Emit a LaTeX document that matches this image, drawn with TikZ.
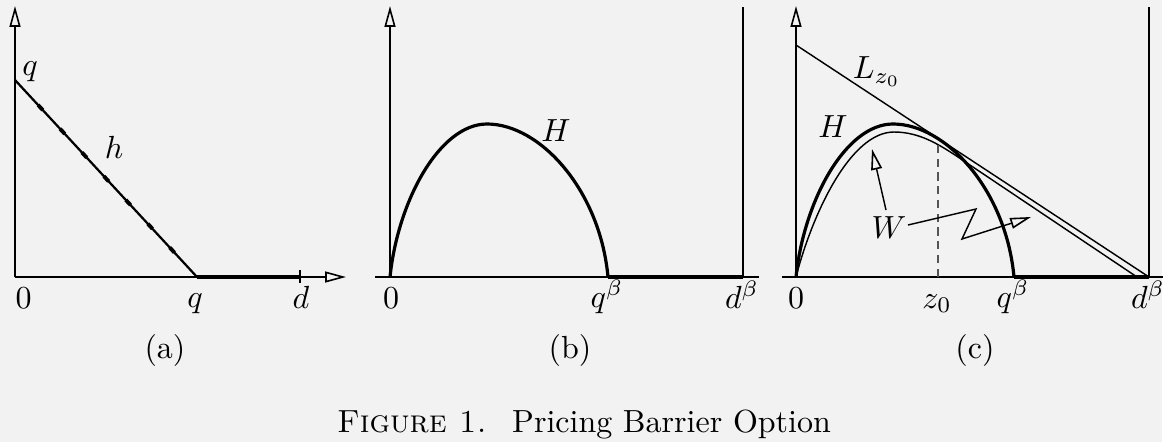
\documentclass[tikz,border=0pt]{standalone}
\usetikzlibrary{arrows.meta,calc}
\definecolor{bg}{HTML}{F2F2F2}
\definecolor{dashgray}{HTML}{555555}
\begin{document}
\begin{tikzpicture}[x=0.3125pt,y=-0.3125pt,
  axis/.style={line width=0.5pt},
  tipped/.style={-{Triangle[open,length=6.5pt,width=3.4pt,line width=0.5pt]}},
  curve/.style={line width=1pt},
  thinline/.style={line width=0.45pt},
  lbl/.style={inner sep=0pt,font=\normalsize},
  axlbl/.style={inner sep=0pt,anchor=base,font=\normalsize}]
\useasboundingbox (0,0) rectangle (1176,442);
\fill[white] (0,0) rectangle (1176,442);
\fill[bg] (0,0) rectangle (1162,442);

% ---------------- panel (a)
\coordinate (a0) at (15,277);
\coordinate (aytop) at (15,6);
\coordinate (axend) at (346,277);
\coordinate (aq) at (15,80);
\coordinate (aqx) at (197,277);
\coordinate (ad) at (300,277);
\coordinate (adt) at (300,270);
\coordinate (adb) at (300,283);
\draw[axis,tipped] (a0) -- (aytop);
\draw[axis,tipped] (a0) -- (axend);
\draw[line width=0.7pt] (aq) -- (aqx);
\draw[curve] (aqx) -- (ad);
\draw[axis] (adt) -- (adb);
\foreach \t in {0.14,0.2605,0.381,0.5015,0.622,0.7425,0.863}{
  \pgfmathsetmacro\ta{\t-0.013}
  \pgfmathsetmacro\tb{\t+0.013}
  \draw[line width=1.2pt] ($(aq)!\ta!(aqx)$) -- ($(aq)!\tb!(aqx)$);
}
\node[lbl] (qa) at (30,72) {$q$};
\node[lbl] (ha) at (114,147) {$h$};
\node[axlbl] (za) at (23.5,308) {$0$};
\node[axlbl] (qxa) at (195,307) {$q$};
\node[axlbl] (da) at (301,308) {$d$};
\node[lbl] (capa) at (165,350) {(a)};

% ---------------- panel (b)
\coordinate (b0) at (390,277);
\coordinate (bytop) at (390,6);
\coordinate (bxl) at (375,277);
\coordinate (bxr) at (759,277);
\coordinate (bq) at (608,277);
\coordinate (bd) at (743,277);
\coordinate (bdt) at (743,7);
\draw[axis,tipped] (b0) -- (bytop);
\draw[axis] (bxl) -- (bxr);
\draw[axis] (bd) -- (bdt);
\draw[curve] (b0) .. controls (398,200) and (440,124) .. (487,124)
                  .. controls (540,124) and (600,190) .. (bq);
\draw[curve] (bq) -- (bd);
\node[lbl] (Hb) at (556,131) {$H$};
\node[axlbl] (zb) at (391,308) {$0$};
\node[axlbl] (qb) at (607,307) {$q^\beta$};
\node[axlbl] (db) at (742,308) {$d^\beta$};
\node[lbl] (capb) at (570,350) {(b)};

% ---------------- panel (c)
\coordinate (c0) at (796,277);
\coordinate (cytop) at (796,6);
\coordinate (cxl) at (782,277);
\coordinate (cxr) at (1163,277);
\coordinate (cq) at (1014,277);
\coordinate (cd) at (1149,277);
\coordinate (cdt) at (1149,7);
\coordinate (Ltop) at (796,45);
\coordinate (zbase) at (938,277);
\coordinate (ztop) at (938,140);
\coordinate (Wt) at (961,159);
\coordinate (We) at (1137,277);
\draw[axis,tipped] (c0) -- (cytop);
\draw[axis] (cxl) -- (cxr);
\draw[axis] (cd) -- (cdt);
\draw[curve] (c0) .. controls (804,200) and (846,124) .. (893,124)
                  .. controls (946,124) and (1006,190) .. (cq);
\draw[curve] (cq) -- (cd);
\draw[thinline] (Ltop) -- (cd);
\draw[thinline] (c0) .. controls (812,215) and (850,132) .. (894,132)
                     .. controls (920,132) and (940,145) .. (Wt) -- (We);
\draw[thinline,dashgray,dash pattern=on 2.6pt off 1.7pt] (zbase) -- (ztop);
\node[lbl] (Hc) at (833,127) {$H$};
\node[lbl] (Lc) at (877,72) {$L_{z_0}$};
\node[lbl] (Wc) at (889,228) {$W$};
\coordinate (w1s) at (886,210);
\coordinate (w1e) at (872,149);
\coordinate (w2a) at (908,225);
\coordinate (w2b) at (976,209);
\coordinate (w2c) at (962,239);
\coordinate (w2e) at (1031,217);
\draw[thinline,tipped] (w1s) -- (w1e);
\draw[thinline,tipped] (w2a) -- (w2b) -- (w2c) -- (w2e);
\node[axlbl] (zc) at (796,308) {$0$};
\node[axlbl] (zzc) at (937,308) {$z_0$};
\node[axlbl] (qc) at (1013,307) {$q^\beta$};
\node[axlbl] (dc) at (1148,308) {$d^\beta$};
\node[lbl] (capc) at (975,350) {(c)};

% ---------------- caption
\node[axlbl] (cap) at (584,432) {\textsc{Figure 1.}\hspace{0.35em} Pricing Barrier Option};
\end{tikzpicture}
\end{document}
